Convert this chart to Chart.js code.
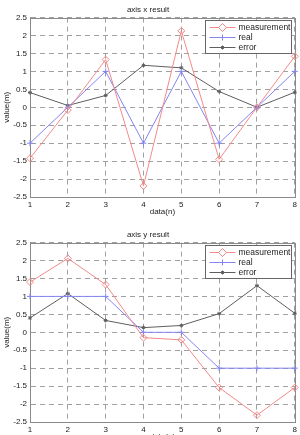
<!DOCTYPE html>
<html>
<head>
<meta charset="utf-8">
<script src="https://cdn.jsdelivr.net/npm/chart.js@4/dist/chart.umd.min.js"></script>
<style>
  body { margin: 0; width: 300px; height: 435px; overflow: hidden; background: #fff; }
  .caja { position: absolute; left: 0; width: 300px; height: 218px; }
</style>
</head>
<body>
<div class="caja" style="top:0"><canvas id="grafico_x"></canvas></div>
<div class="caja" style="top:225px"><canvas id="grafico_y"></canvas></div>
<script>
const etiquetas_n = ["1", "2", "3", "4", "5", "6", "7", "8"];
const ticks_y = [-2.5, -2, -1.5, -1, -0.5, 0, 0.5, 1, 1.5, 2, 2.5];

// axis x result
const x_measurement = [-1.42, -0.08, 1.33, -2.19, 2.13, -1.45, 0.0, 1.42];
const x_real = [-1, 0, 1, -1, 1, -1, 0, 1];
const x_error = [0.41, 0.05, 0.33, 1.17, 1.1, 0.44, 0.0, 0.42];

// axis y result
const y_measurement = [1.4, 2.06, 1.33, -0.15, -0.21, -1.54, -2.31, -1.54];
const y_real = [1, 1, 1, 0, 0, -1, -1, -1];
const y_error = [0.4, 1.08, 0.33, 0.13, 0.19, 0.52, 1.3, 0.53];

const color_rojo = "#f28a8a";
const color_azul = "#8585f2";
const color_negro = "#5e5e5e";
const fuente = "'Liberation Sans', Arial, sans-serif";

// marco y leyenda al estilo matlab
const marco_matlab = {
  id: "marco_matlab",
  beforeDatasetsDraw(chart) {
    const ctx = chart.ctx;
    const a = chart.chartArea;
    ctx.save();
    ctx.strokeStyle = "#8a8a8a";
    ctx.lineWidth = 1;
    ctx.strokeRect(Math.round(a.left) + 0.5, Math.round(a.top) + 0.5,
      Math.round(a.right - a.left), Math.round(a.bottom - a.top));
    ctx.restore();
  },
  afterDraw(chart) {
    const ctx = chart.ctx;
    const a = chart.chartArea;
    const x0 = Math.round(a.right) - 89.5;
    const y0 = Math.round(a.top) + 2.5;
    ctx.save();
    ctx.fillStyle = "#fff";
    ctx.fillRect(x0, y0, 86, 33);
    ctx.strokeStyle = "#666";
    ctx.lineWidth = 1;
    ctx.strokeRect(x0, y0, 86, 33);
    chart.data.datasets.forEach((ds, i) => {
      const yy = y0 + 7 + i * 10;
      ctx.strokeStyle = ds.borderColor;
      ctx.lineWidth = 1;
      ctx.beginPath();
      ctx.moveTo(x0 + 4, yy);
      ctx.lineTo(x0 + 30, yy);
      ctx.stroke();
      Chart.helpers.drawPoint(ctx, {
        pointStyle: ds.pointStyle,
        radius: ds.pointRadius + (i == 0 ? 0.5 : 0),
        borderWidth: 1,
        rotation: 0
      }, x0 + 17, yy);
      ctx.fillStyle = "#222";
      ctx.font = "8.5px " + fuente;
      ctx.textBaseline = "middle";
      ctx.fillText(ds.label, x0 + 33, yy + 0.5);
    });
    ctx.restore();
  }
};

function crear_serie(nombre, datos, color, estilo, radio) {
  return {
    label: nombre,
    data: datos,
    borderColor: color,
    backgroundColor: "rgba(0,0,0,0)",
    borderWidth: 1,
    pointStyle: estilo,
    pointRadius: radio,
    pointBorderColor: color,
    pointBackgroundColor: "rgba(0,0,0,0)",
    pointBorderWidth: 1,
    tension: 0,
    clip: false
  };
}

function pintar_grafico(id, titulo, medicion, real, error) {
  const config = {
    type: "line",
    data: {
      labels: etiquetas_n,
      datasets: [
        crear_serie("measurement", medicion, color_rojo, "rectRot", 3.5),
        crear_serie("real", real, color_azul, "cross", 3),
        crear_serie("error", error, color_negro, "star", 2)
      ]
    },
    options: {
      responsive: true,
      maintainAspectRatio: false,
      animation: false,
      layout: { padding: { left: 0, right: 4, top: 0, bottom: 0 } },
      plugins: {
        legend: { display: false },
        tooltip: { enabled: false },
        title: {
          display: true,
          text: titulo,
          color: "#222",
          font: { family: fuente, size: 8, weight: "normal" },
          padding: { top: 5, bottom: 3 }
        }
      },
      scales: {
        x: {
          type: "category",
          offset: false,
          grid: { color: "#a0a0a0", drawTicks: false, lineWidth: 1 },
          border: { display: true, color: "#8a8a8a", dash: [5, 4] },
          ticks: { color: "#222", font: { family: fuente, size: 8 }, padding: 3, maxRotation: 0 },
          title: {
            display: true, text: "data(n)", color: "#222",
            font: { family: fuente, size: 8 }, padding: { top: 0, bottom: 1 }
          },
          afterFit: (s) => { s.height = 21; }
        },
        y: {
          min: -2.5,
          max: 2.5,
          grid: { color: "#a0a0a0", drawTicks: false, lineWidth: 1 },
          border: { display: true, color: "#8a8a8a", dash: [5, 4] },
          afterBuildTicks: (s) => { s.ticks = ticks_y.map((v) => ({ value: v })); },
          ticks: {
            color: "#222", font: { family: fuente, size: 8 }, padding: 3,
            callback: (v) => String(v)
          },
          title: {
            display: true, text: "value(m)", color: "#222",
            font: { family: fuente, size: 8 }, padding: { top: 2, bottom: 0 }
          },
          afterFit: (s) => { s.width = 30; }
        }
      }
    },
    plugins: [marco_matlab]
  };
  new Chart(document.getElementById(id), config);
}

pintar_grafico("grafico_x", "axis x result", x_measurement, x_real, x_error);
pintar_grafico("grafico_y", "axis y result", y_measurement, y_real, y_error);
</script>
</body>
</html>
